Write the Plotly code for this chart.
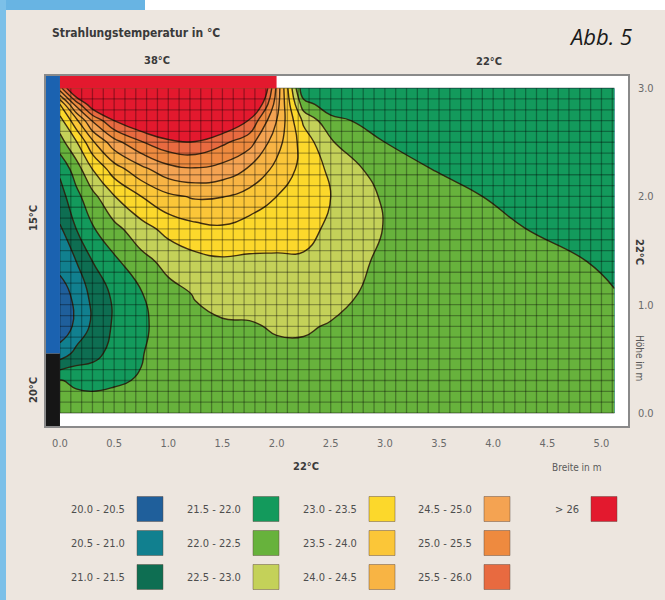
import plotly.graph_objects as go

# ------------------------------------------------------------------
# DATA (read / estimated from the picture)
# ------------------------------------------------------------------
# grid positions of the estimated radiant temperatures (m)
x_m = [0, 0.15, 0.3, 0.5, 0.75, 1.0, 1.25, 1.5, 1.75, 2.0, 2.25, 2.5, 3.0, 3.5, 4.25, 5.12]
y_m = [0, 0.3, 0.55, 0.8, 1.1, 1.4, 1.7, 2.0, 2.25, 2.5, 2.7, 2.85, 3.0]

# radiant temperature (deg C) per column, listed bottom -> top (same order as y_m)
t_x000 = [22.15, 22.02, 20.70, 20.20, 20.30, 20.65, 20.95, 21.30, 21.60, 22.30, 22.80, 23.50, 25.30]
t_x015 = [22.20, 21.93, 21.15, 20.60, 20.62, 21.00, 21.50, 21.85, 22.25, 22.95, 23.85, 25.20, 27.00]
t_x030 = [22.20, 21.90, 21.30, 21.10, 21.15, 21.50, 21.95, 22.35, 23.00, 23.90, 25.05, 26.40, 27.60]
t_x050 = [22.20, 21.95, 21.70, 21.57, 21.60, 21.90, 22.35, 22.98, 23.75, 24.80, 26.00, 27.10, 28.00]
t_x075 = [22.22, 22.03, 21.97, 21.90, 21.97, 22.34, 22.80, 23.50, 24.35, 25.45, 26.55, 27.50, 28.20]
t_x100 = [22.40, 22.30, 22.25, 22.24, 22.34, 22.65, 23.16, 23.90, 24.81, 25.87, 26.90, 27.76, 28.40]
t_x125 = [22.40, 22.36, 22.35, 22.39, 22.53, 22.85, 23.35, 24.06, 24.94, 25.96, 26.98, 27.84, 28.50]
t_x150 = [22.40, 22.39, 22.41, 22.46, 22.62, 22.93, 23.43, 24.02, 24.81, 25.60, 26.60, 27.60, 28.30]
t_x175 = [22.39, 22.40, 22.42, 22.47, 22.64, 22.91, 23.29, 23.80, 24.43, 25.19, 25.95, 27.10, 28.30]
t_x200 = [22.40, 22.42, 22.44, 22.53, 22.64, 22.94, 23.17, 23.50, 23.86, 24.20, 24.50, 24.74, 24.90]
t_x225 = [22.43, 22.44, 22.45, 22.53, 22.62, 22.95, 23.12, 23.26, 23.34, 23.28, 22.90, 22.21, 21.55]
t_x250 = [22.40, 22.42, 22.44, 22.48, 22.60, 22.72, 22.93, 23.00, 22.90, 22.55, 22.15, 21.70, 21.52]
t_x300 = [22.40, 22.40, 22.40, 22.40, 22.40, 22.42, 22.48, 22.43, 22.23, 22.00, 21.75, 21.58, 21.53]
t_x350 = [22.45, 22.43, 22.42, 22.40, 22.37, 22.33, 22.27, 22.16, 21.97, 21.85, 21.72, 21.62, 21.57]
t_x425 = [22.33, 22.30, 22.27, 22.24, 22.18, 22.12, 22.01, 21.86, 21.80, 21.72, 21.65, 21.59, 21.55]
t_x512 = [22.18, 22.15, 22.12, 22.08, 22.01, 21.95, 21.90, 21.84, 21.78, 21.72, 21.66, 21.62, 21.60]

# room geometry (m)
room_w = 5.12
room_h = 3.0
panel_end = 2.0        # 38 deg C ceiling panel from 0 to 2 m
window_bottom = 0.55   # 15 deg C window above, 20 deg C wall below

# legend classes
band_labels = ["20.0 - 20.5", "20.5 - 21.0", "21.0 - 21.5",
               "21.5 - 22.0", "22.0 - 22.5", "22.5 - 23.0",
               "23.0 - 23.5", "23.5 - 24.0", "24.0 - 24.5",
               "24.5 - 25.0", "25.0 - 25.5", "25.5 - 26.0",
               "> 26"]
band_colors = ["#1f5f9b", "#11808f", "#0e6e52",
               "#139a5c", "#67b23c", "#c4d159",
               "#fcd82b", "#fbc638", "#f8b444",
               "#f4a352", "#ee8a3f", "#e86a40",
               "#e3192e"]

# axis ticks
x_ticks = [0.0, 0.5, 1.0, 1.5, 2.0, 2.5, 3.0, 3.5, 4.0, 4.5, 5.0]
x_tick_text = ["0.0", "0.5", "1.0", "1.5", "2.0", "2.5", "3.0", "3.5", "4.0", "4.5", "5.0"]
y_ticks = [0.0, 1.0, 2.0, 3.0]
y_tick_text = ["0.0", "1.0", "2.0", "3.0"]

# ------------------------------------------------------------------
# LAYOUT HELPERS (pixel positions of the frame)
# ------------------------------------------------------------------
W, H = 665, 600
FL, FR, FT, FB = 46, 628, 76, 426          # frame in px
X0, X1 = -0.129, 5.245                      # data range of the frame
Y0, Y1 = -0.12, 3.112
BG = "#ede6df"
FONT = "Liberation Sans Narrow, DejaVu Sans Condensed, Arial Narrow, sans-serif"
TXT = "#4a4a4a"


def pxx(p):
    return (p - FL) / (FR - FL)


def pxy(p):
    return (FB - p) / (FB - FT)


columns = [t_x000, t_x015, t_x030, t_x050, t_x075, t_x100, t_x125, t_x150,
           t_x175, t_x200, t_x225, t_x250, t_x300, t_x350, t_x425, t_x512]
z = [[col[i] for col in columns] for i in range(len(y_m))]

colorscale = [[k / 13.0, c] for k, c in enumerate([band_colors[0]] + band_colors)]

fig = go.Figure()

fig.add_trace(go.Contour(
    x=x_m, y=y_m, z=z,
    autocontour=False,
    contours=dict(start=20, end=26, size=0.5, coloring="fill", showlines=True),
    line=dict(color="rgba(45,30,12,0.9)", width=1.4, smoothing=1.3),
    colorscale=colorscale, showscale=False, hoverinfo="skip",
))

# 0.1 m raster drawn over the field
gx, gy = [], []
n_vx = int(round(room_w / 0.1))
for i in range(n_vx + 1):
    xv = min(i * 0.1, room_w)
    gx += [xv, xv, None]
    gy += [0, room_h, None]
for j in range(int(round(room_h / 0.1)) + 1):
    yv = j * 0.1
    gx += [0, room_w, None]
    gy += [yv, yv, None]
fig.add_trace(go.Scatter(x=gx, y=gy, mode="lines",
                         line=dict(color="rgba(0,0,0,0.32)", width=1.3),
                         hoverinfo="skip", showlegend=False))

shapes = []
# outer page decoration
shapes.append(dict(type="rect", xref="paper", yref="paper", x0=pxx(0), x1=pxx(W), y0=pxy(10), y1=pxy(0),
                   fillcolor="white", line=dict(width=0), layer="above"))
shapes.append(dict(type="rect", xref="paper", yref="paper", x0=pxx(0), x1=pxx(145), y0=pxy(10), y1=pxy(0),
                   fillcolor="#68b4e3", line=dict(width=0), layer="above"))
shapes.append(dict(type="rect", xref="paper", yref="paper", x0=pxx(0), x1=pxx(6), y0=pxy(H), y1=pxy(0),
                   fillcolor="#7cc0e8", line=dict(width=0), layer="above"))
# walls / panel
shapes.append(dict(type="rect", xref="x", yref="y", x0=X0, x1=0, y0=window_bottom, y1=Y1,
                   fillcolor="#1b62b0", line=dict(width=0), layer="above"))
shapes.append(dict(type="rect", xref="x", yref="y", x0=X0, x1=0, y0=Y0, y1=window_bottom,
                   fillcolor="#161616", line=dict(width=0), layer="above"))
shapes.append(dict(type="rect", xref="x", yref="y", x0=0, x1=panel_end, y0=room_h, y1=Y1,
                   fillcolor=band_colors[-1], line=dict(width=0), layer="above"))

annotations = []


def add_text(text, x, y, size=11, color=TXT, angle=0, xanchor="center", bold=False, family=FONT):
    annotations.append(dict(text=("<b>%s</b>" % text) if bold else text, xref="paper", yref="paper",
                            x=pxx(x), y=pxy(y), xanchor=xanchor, yanchor="middle",
                            textangle=angle, showarrow=False,
                            font=dict(family=family, size=size, color=color)))


add_text("Strahlungstemperatur in °C", 50, 33, size=12, color="#3a3a3a", xanchor="left", bold=True)
add_text("38°C", 157, 61, size=11, color="#3a3a3a", bold=True)
add_text("22°C", 489, 62, size=11, color="#3a3a3a", bold=True)
add_text("<i>Abb. 5</i>", 600, 36, size=22, color="#1a1a1a", family="Open Sans, Noto Sans, sans-serif")
add_text("15°C", 33, 218, size=11, color="#3a3a3a", angle=-90, bold=True)
add_text("20°C", 33, 390, size=11, color="#3a3a3a", angle=-90, bold=True)
add_text("22°C", 640, 252, size=11, color="#3a3a3a", angle=90, bold=True)
add_text("Höhe in m", 640, 358, size=10, color="#5a5a5a", angle=90)
add_text("22°C", 306, 466, size=11, color="#3a3a3a", bold=True)
add_text("Breite in m", 576, 467, size=10, color="#5a5a5a")

# legend grid (5 columns x 3 rows)
sw_left = [137, 253, 369, 484, 591]
row_mid = [509, 543, 577]
for k, (lab, col) in enumerate(zip(band_labels, band_colors)):
    c, r = divmod(k, 3)
    x0 = sw_left[c]
    ym = row_mid[r]
    shapes.append(dict(type="rect", xref="paper", yref="paper",
                       x0=pxx(x0), x1=pxx(x0 + 26), y0=pxy(ym + 12.5), y1=pxy(ym - 12.5),
                       fillcolor=col, line=dict(color="rgba(90,70,60,0.45)", width=1), layer="above"))
    add_text(lab, x0 - 10, ym, size=11, color="#4e4e4e", xanchor="right")

fig.update_layout(
    width=W, height=H, template="none",
    margin=dict(l=FL, r=W - FR, t=FT, b=H - FB, pad=0, autoexpand=False),
    paper_bgcolor=BG, plot_bgcolor="white", showlegend=False,
    shapes=shapes, annotations=annotations,
    xaxis=dict(range=[X0, X1], tickvals=x_ticks, ticktext=x_tick_text, showgrid=False,
               zeroline=False, showline=True, mirror=True, linecolor="#8a8a8a", linewidth=1.5,
               ticks="", ticklabelstandoff=6, tickfont=dict(family=FONT, size=11, color="#6a6a6a"),
               fixedrange=True, automargin=False),
    yaxis=dict(range=[Y0, Y1], tickvals=y_ticks, ticktext=y_tick_text, side="right", showgrid=False,
               zeroline=False, showline=True, mirror=True, linecolor="#8a8a8a", linewidth=1.5,
               ticks="", ticklabelstandoff=6, tickfont=dict(family=FONT, size=11, color="#6a6a6a"),
               fixedrange=True, automargin=False),
)

fig.write_html("out.html", config={"displayModeBar": False},
               post_script="document.body.style.margin='0px';")
